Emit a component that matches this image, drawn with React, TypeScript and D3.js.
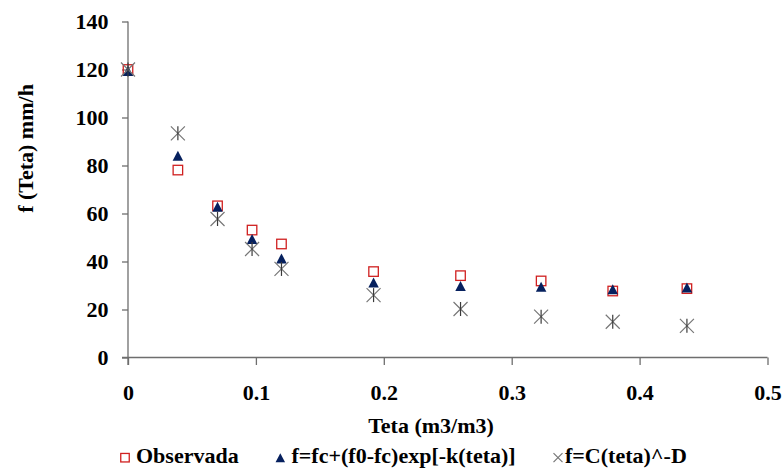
import React, { useEffect, useRef } from 'react';
import * as d3 from 'd3';

const width = 784;
const height = 468;

// x values (Teta, m3/m3)
const teta = [0, 0.039, 0.07, 0.097, 0.12, 0.192, 0.26, 0.323, 0.379, 0.437];
// f (Teta) mm/h
const observada = [120, 78.1, 63.2, 53.1, 47.3, 35.8, 34.1, 31.9, 27.7, 28.7];
const modelExp = [119.4, 84.1, 62.8, 49.4, 41.3, 31.2, 29.8, 29.5, 28.4, 29.2];
const modelPow = [120, 93.4, 57.7, 45.2, 36.9, 26, 20.2, 17, 14.9, 13.2];

const xTicks = [0, 0.1, 0.2, 0.3, 0.4, 0.5];
const yTicks = [0, 20, 40, 60, 80, 100, 120, 140];

const legendLabels = ['Observada', 'f=fc+(f0-fc)exp[-k(teta)]', 'f=C(teta)^-D'];

const font = 'Liberation Serif';
const axisColor = '#6e6e6e';
const red = '#d02020';
const navy = '#06205e';
const starColor = '#3a3a3a';

const plot = { left: 128, right: 767.5, top: 21.5, bottom: 357.5 };

function drawSquare(g, x, y, s) {
  g.append('rect')
    .attr('x', x - s / 2)
    .attr('y', y - s / 2)
    .attr('width', s)
    .attr('height', s)
    .attr('fill', 'none')
    .attr('stroke', red)
    .attr('stroke-width', 1.3);
}

function drawTriangle(g, x, y, w, h) {
  g.append('path')
    .attr('d', `M${x},${y - h / 2}L${x + w / 2},${y + h / 2}L${x - w / 2},${y + h / 2}Z`)
    .attr('fill', navy);
}

function drawStar(g, x, y, s, vertical) {
  const r = s / 2;
  g.append('path')
    .attr('d', `M${x - r},${y - r}L${x + r},${y + r}M${x + r},${y - r}L${x - r},${y + r}`)
    .attr('stroke', '#777')
    .attr('stroke-width', 1.2);
  if (vertical) {
    g.append('path')
      .attr('d', `M${x},${y - r}L${x},${y + r}`)
      .attr('stroke', starColor)
      .attr('stroke-width', 1.2);
  }
}

function label(sel) {
  return sel
    .attr('font-family', font)
    .attr('font-weight', 'bold')
    .attr('font-size', 22)
    .attr('fill', '#000');
}

export default function App() {
  const ref = useRef(null);

  useEffect(() => {
    const svg = d3.select(ref.current);
    svg.selectAll('*').remove();

    const x = d3.scaleLinear().domain([0, 0.5]).range([plot.left, plot.right]);
    const y = d3.scaleLinear().domain([0, 140]).range([plot.bottom, plot.top]);

    // axis lines
    svg.append('line')
      .attr('x1', plot.left).attr('x2', plot.left)
      .attr('y1', plot.top).attr('y2', plot.bottom + 7.5)
      .attr('stroke', axisColor).attr('stroke-width', 1.3);
    svg.append('line')
      .attr('x1', plot.left - 6).attr('x2', plot.right)
      .attr('y1', plot.bottom).attr('y2', plot.bottom)
      .attr('stroke', axisColor).attr('stroke-width', 1.3);

    const yAxis = svg.append('g')
      .attr('transform', `translate(${plot.left},0)`)
      .call(d3.axisLeft(y).tickValues(yTicks).tickSize(6).tickPadding(13.5).tickSizeOuter(0));
    const xAxis = svg.append('g')
      .attr('transform', `translate(0,${plot.bottom})`)
      .call(d3.axisBottom(x).tickValues(xTicks).tickFormat(d3.format('')).tickSize(7.5).tickPadding(19).tickSizeOuter(0));

    [yAxis, xAxis].forEach(a => {
      a.attr('font-family', font).attr('font-size', 22);
      a.select('.domain').remove();
      a.selectAll('line').attr('stroke', axisColor).attr('stroke-width', 1.3);
      a.selectAll('text').call(label);
    });

    // titles
    svg.append('text')
      .attr('x', 431)
      .attr('y', 432.5)
      .attr('text-anchor', 'middle')
      .call(label)
      .text('Teta (m3/m3)');
    svg.append('text')
      .attr('transform', 'translate(33,148.5) rotate(-90)')
      .attr('text-anchor', 'middle')
      .call(label)
      .text('f (Teta) mm/h');

    // series
    const marks = svg.append('g');
    teta.forEach((t, i) => drawSquare(marks, x(t), y(observada[i]), 9.5));
    teta.forEach((t, i) => drawTriangle(marks, x(t), y(modelExp[i]), 10.5, 10));
    teta.forEach((t, i) => drawStar(marks, x(t), y(modelPow[i]), 14, true));

    // legend
    const lg = svg.append('g');
    const ly = 457.7;
    drawSquare(lg, 125, ly, 8.5);
    drawTriangle(lg, 280.3, ly, 9.5, 9);
    drawStar(lg, 558, ly, 9, false);
    const lx = [136, 291.5, 565];
    legendLabels.forEach((l, i) => {
      lg.append('text')
        .attr('x', lx[i])
        .attr('y', 462.7)
        .call(label)
        .text(l);
    });
  }, []);

  return (
    <svg
      ref={ref}
      width={width}
      height={height}
      style={{ position: 'absolute', left: 0, top: 0, background: '#fff', fontFamily: font }}
    />
  );
}
